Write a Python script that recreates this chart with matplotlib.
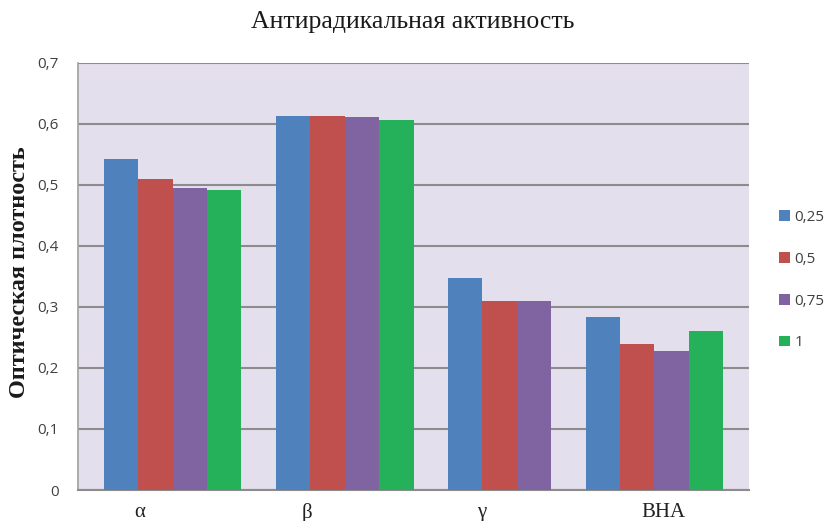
import numpy as np
import matplotlib
matplotlib.use("Agg")
import matplotlib.pyplot as plt
from matplotlib.patches import Patch

# Data
groups = ["α", "β", "γ", "BHA"]
series = ["0,25", "0,5", "0,75", "1"]
s_025 = [0.543, 0.613, 0.348, 0.284]
s_05 = [0.510, 0.613, 0.310, 0.239]
s_075 = [0.494, 0.611, 0.310, 0.228]
s_1 = [0.491, 0.606, np.nan, 0.260]
yticks = [0, 0.1, 0.2, 0.3, 0.4, 0.5, 0.6, 0.7]
ytick_labels = ["0", "0,1", "0,2", "0,3", "0,4", "0,5", "0,6", "0,7"]

colors = ["#4F81BD", "#C0504D", "#8064A2", "#25B15A"]
values = np.array([s_025, s_05, s_075, s_1])

fig = plt.figure(figsize=(8.29, 5.21), dpi=100)
ax = fig.add_axes([0.0941, 0.0595, 0.8094, 0.8202])
ax.set_facecolor("#E4DFEC")

# Groups are packed one after another, one bar width apart; missing values take no slot
bar_w = 1.0
margin = 0.75
x = margin
for g in range(len(groups)):
    slot = 0
    for s in range(len(series)):
        v = values[s, g]
        if np.isnan(v):
            continue
        ax.bar(x + slot * bar_w, v, width=bar_w, align="edge",
               color=colors[s], edgecolor="none", zorder=3)
        slot += 1
    x += slot * bar_w + bar_w
x_end = x - bar_w + margin

ax.set_xlim(0, x_end)
ax.set_ylim(0, 0.7)

# Category label placement along the axis
label_pos = [1.78, 6.65, 11.72, 17.02]
ax.set_xticks(label_pos)
ax.set_xticklabels(groups, family="Liberation Serif", fontsize=15, color="#222222")
ax.tick_params(axis="x", length=0, pad=9)

ax.set_yticks(yticks)
ax.set_yticklabels(ytick_labels, family="Open Sans", fontsize=11, color="#404040")
ax.tick_params(axis="y", length=0, pad=14)

ax.grid(axis="y", color="#8C8C8C", linewidth=1.5, zorder=1)
for side in ["top", "right"]:
    ax.spines[side].set_visible(False)
ax.spines["left"].set_color("#A0A0A0")
ax.spines["bottom"].set_color("#8C8C8C")
ax.spines["left"].set_linewidth(1.2)
ax.spines["bottom"].set_linewidth(1.5)

fig.text(0.498, 0.957, "Антирадикальная активность", family="Liberation Serif",
         fontsize=18.5, ha="center", va="center", color="#1a1a1a")
fig.text(0.023, 0.478, "Оптическая плотность", family="Liberation Serif",
         fontsize=17.5, fontweight="bold", rotation=90, ha="center", va="center",
         color="#1a1a1a")

handles = [Patch(facecolor=c, edgecolor="none") for c in colors]
leg = fig.legend(handles, series, loc="upper left", bbox_to_anchor=(0.931, 0.6115),
                 frameon=False, prop={"family": "Open Sans", "size": 11},
                 handlelength=0.7, handleheight=0.7, handletextpad=0.3,
                 labelspacing=1.75, borderpad=0)
for t in leg.get_texts():
    t.set_color("#404040")

fig.savefig("out.png", dpi=100, facecolor="white")
